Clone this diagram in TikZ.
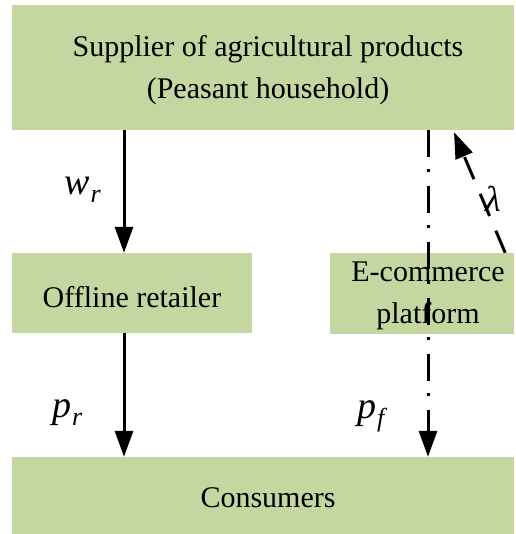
\documentclass[tikz,border=0pt]{standalone}
\usepackage{fontspec}
\setmainfont{Liberation Serif}
\usetikzlibrary{arrows.meta,calc}
\definecolor{boxgreen}{RGB}{196,215,160}
\tikzset{
  box/.style={fill=boxgreen, draw=none, inner sep=0pt},
  boxtext/.style={inner sep=0pt, align=center, font=\fontsize{30}{42}\selectfont},
  flow/.style={line width=3pt, -{Triangle[length=26pt,width=18pt]}},
  dashdot/.style={line width=3pt, dash pattern=on 27pt off 12pt on 3pt off 14pt, -{Triangle[length=26pt,width=18pt]}},
  dashflow/.style={line width=3pt, dash pattern=on 24pt off 16pt, -{Triangle[length=26pt,width=18pt]}},
  var/.style={inner sep=0pt, anchor=base west, font=\fontsize{38}{38}\selectfont}
}
\newcommand{\vsub}[2]{\textit{#1}\hspace{1pt}\raisebox{-8pt}{\fontsize{26}{26}\selectfont\textit{#2}}}
\begin{document}
\begin{tikzpicture}[x=1pt,y=-1pt]
\useasboundingbox (0,0) rectangle (515,534);
\node[box, minimum width=502pt, minimum height=125pt] (sup) at (263,67.5) {};
\node[box, minimum width=240pt, minimum height=80pt] (off) at (132,293) {};
\node[box, minimum width=184pt, minimum height=81pt] (ecom) at (422,293.5) {};
\node[box, minimum width=502pt, minimum height=77pt] (cons) at (263,495.5) {};
\node[boxtext] (supt) at (268,70) {Supplier of agricultural products\\(Peasant household)};
\node[boxtext] (offt) at (132,297) {Offline retailer};
\node[boxtext] (ecomt) at (428,296) {E-commerce\\platform};
\node[boxtext] (const) at (268,498) {Consumers};
\coordinate (a1s) at ($(sup.south -| off.center)+(-8,0)$);
\coordinate (a1e) at ($(off.north)+(-8,0)$);
\draw[flow] (a1s) -- (a1e);
\coordinate (a2s) at ($(off.south)+(-8,0)$);
\coordinate (a2e) at ($(cons.north -| off.center)+(-8,0)$);
\draw[flow] (a2s) -- (a2e);
\coordinate (dtop) at ($(sup.south -| ecom.center)+(6,0)$);
\coordinate (dbot) at ($(cons.north -| ecom.center)+(6,0)$);
\draw[dashdot] (dtop) -- (dbot);
\coordinate (ls) at ($(ecom.north east)+(-9,0)$);
\coordinate (le) at ($(sup.south -| ecom.center)+(32,2)$);
\draw[dashflow] (ls) -- (le);
\node[inner sep=0pt, font=\fontsize{36}{36}\selectfont] (lam) at (493,199) {\textit{λ}};
\node[var] (wr) at (64,195) {\vsub{w}{r}};
\node[var] (pr) at (52,417) {\vsub{p}{r}};
\node[var] (pf) at (357,418) {\vsub{p}{f}};
\end{tikzpicture}
\end{document}
